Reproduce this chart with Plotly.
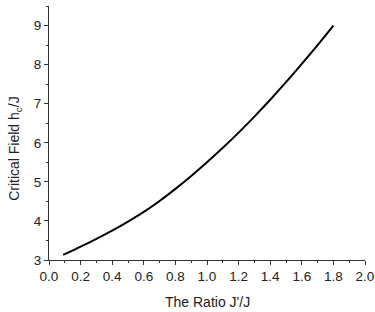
import plotly.graph_objects as go

ratio = [0.09, 0.1, 0.2, 0.3, 0.4, 0.5, 0.6, 0.7, 0.8, 0.9, 1.0, 1.1, 1.2, 1.3, 1.4, 1.5, 1.6, 1.7, 1.8]
critical_field = [3.13, 3.15, 3.34, 3.54, 3.75, 3.98, 4.23, 4.51, 4.82, 5.15, 5.50, 5.87, 6.26, 6.67, 7.10, 7.55, 8.02, 8.50, 9.0]

x_ticks = [0.0, 0.2, 0.4, 0.6, 0.8, 1.0, 1.2, 1.4, 1.6, 1.8, 2.0]
x_ticklabels = ["0.0", "0.2", "0.4", "0.6", "0.8", "1.0", "1.2", "1.4", "1.6", "1.8", "2.0"]
y_ticks = [3, 4, 5, 6, 7, 8, 9]

FONT = "Liberation Sans, Arial, sans-serif"

fig = go.Figure()
fig.add_trace(go.Scatter(
    x=ratio, y=critical_field, mode="lines",
    line=dict(color="black", width=2, shape="spline", smoothing=0.8),
    showlegend=False, hoverinfo="skip",
))

axis_common = dict(
    showgrid=False, zeroline=False, showline=True, linecolor="#333", linewidth=1,
    ticks="outside", ticklen=4, tickwidth=1, tickcolor="#333", automargin=False,
    tickfont=dict(family=FONT, size=13.5, color="#222"),
)

fig.update_layout(
    width=375, height=312,
    margin=dict(l=49, r=10, t=6, b=52, autoexpand=False),
    paper_bgcolor="white", plot_bgcolor="white",
    xaxis=dict(range=[0, 2], tickvals=x_ticks, ticktext=x_ticklabels,
               minor=dict(ticks="outside", ticklen=2, dtick=0.1, tickcolor="#333"),
               **axis_common),
    yaxis=dict(range=[3, 9.5], tickvals=y_ticks,
               minor=dict(ticks="outside", ticklen=2, dtick=0.5, tickcolor="#333"),
               **axis_common),
    annotations=[
        dict(text="Critical Field h<sub>c</sub>/J", textangle=-90,
             xref="paper", yref="paper", x=-0.108, y=0.441,
             xanchor="center", yanchor="middle", showarrow=False,
             font=dict(family=FONT, size=14, color="#222")),
        dict(text="The Ratio J'/J",
             xref="paper", yref="paper", x=0.5, y=-0.164,
             xanchor="center", yanchor="middle", showarrow=False,
             font=dict(family=FONT, size=14, color="#222")),
    ],
)

fig.write_html("out.html", config={"displayModeBar": False},
               post_script="document.body.style.margin='0';document.body.style.overflow='hidden';")
